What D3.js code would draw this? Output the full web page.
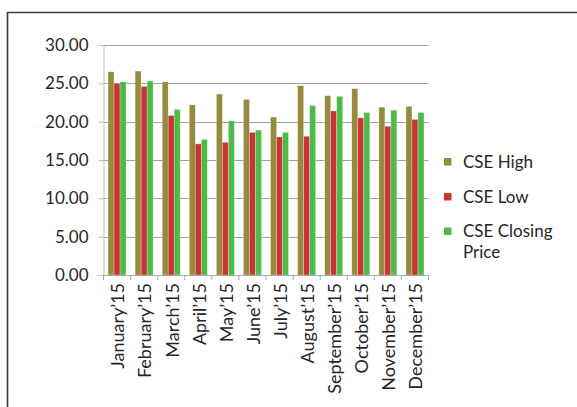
<!DOCTYPE html>
<html>
<head>
<meta charset="utf-8">
<script src="https://cdn.jsdelivr.net/npm/d3@7/dist/d3.min.js"></script>
<style>
  html, body { margin: 0; padding: 0; background: #fff; }
  svg { display: block; }
  text { font-family: Lato, "Open Sans", sans-serif; fill: #262626; }
</style>
</head>
<body>
<svg id="chart" width="577" height="407"></svg>
<script>
// Monthly CSE share price range, 2015
const months = ["January\u201915", "February\u201915", "March\u201915", "April\u201915", "May\u201915", "June\u201915",
  "July\u201915", "August\u201915", "September\u201915", "October\u201915", "November\u201915", "December\u201915"];
const cseHigh = [26.5, 26.6, 25.2, 22.2, 23.6, 22.9, 20.6, 24.7, 23.4, 24.3, 21.9, 22.0];
const cseLow = [25.0, 24.6, 20.8, 17.1, 17.3, 18.6, 18.0, 18.1, 21.4, 20.5, 19.4, 20.3];
const cseClose = [25.2, 25.3, 21.6, 17.7, 20.1, 18.9, 18.6, 22.1, 23.3, 21.2, 21.5, 21.2];
const seriesNames = ["CSE High", "CSE Low", "CSE Closing Price"];
const seriesColors = ["#958b3d", "#cb3432", "#4dbb48"];
const yTicks = [0, 5, 10, 15, 20, 25, 30];

const seriesValues = [cseHigh, cseLow, cseClose];
const svg = d3.select("#chart");

// outer frame (top and left edges)
svg.append("path")
  .attr("d", "M7.5,407 V12.5 H577")
  .attr("fill", "none")
  .attr("stroke", "#3c3c3c")
  .attr("stroke-width", 1.6);

const plot = { left: 103.5, right: 428.5, top: 45, bottom: 275 };

const x = d3.scaleBand().domain(months).range([plot.left, plot.right]).padding(0);
const xs = d3.scaleBand().domain(seriesNames)
  .range([(x.bandwidth() - 18) / 2, (x.bandwidth() + 18) / 2]).padding(0);
const y = d3.scaleLinear().domain([0, 30]).range([plot.bottom, plot.top]);

// horizontal gridlines
svg.append("g")
  .selectAll("line")
  .data(yTicks.filter(d => d > 0))
  .join("line")
  .attr("x1", plot.left).attr("x2", plot.right)
  .attr("y1", d => Math.round(y(d)) + 0.5).attr("y2", d => Math.round(y(d)) + 0.5)
  .attr("stroke", "#a0a0a0")
  .attr("stroke-width", 1);

// y axis
const yAxis = svg.append("g")
  .attr("transform", `translate(${plot.left},0)`)
  .call(d3.axisLeft(y).tickValues(yTicks).tickFormat(d3.format(".2f")).tickSize(5).tickPadding(10));
yAxis.select(".domain").attr("stroke", "#bdbdbd");
yAxis.selectAll(".tick line").attr("stroke", "#bdbdbd");
yAxis.selectAll(".tick text")
  .style("font-family", "Lato, 'Open Sans', sans-serif")
  .style("font-size", "17px")
  .attr("fill", "#262626");

// bars
const groups = svg.append("g")
  .selectAll("g")
  .data(months)
  .join("g")
  .attr("transform", d => `translate(${x(d)},0)`);

groups.selectAll("rect")
  .data((m, i) => seriesNames.map((s, k) => ({ s, k, v: seriesValues[k][i] })))
  .join("rect")
  .attr("x", d => xs(d.s))
  .attr("width", xs.bandwidth())
  .attr("y", d => y(d.v))
  .attr("height", d => y(0) - y(d.v))
  .attr("fill", d => seriesColors[d.k])
  .attr("stroke", "rgba(255,255,255,0.45)")
  .attr("stroke-width", 0.6);

// x axis with ticks at category boundaries
const bounds = months.map(m => x(m)).concat([plot.right]);
const xAxisG = svg.append("g");
xAxisG.append("line")
  .attr("x1", plot.left).attr("x2", plot.right)
  .attr("y1", plot.bottom + 0.5).attr("y2", plot.bottom + 0.5)
  .attr("stroke", "#a8a8a8");
xAxisG.selectAll("line.tick")
  .data(bounds)
  .join("line")
  .attr("class", "tick")
  .attr("x1", d => d).attr("x2", d => d)
  .attr("y1", plot.bottom).attr("y2", plot.bottom + 5)
  .attr("stroke", "#a8a8a8");

xAxisG.selectAll("text")
  .data(months)
  .join("text")
  .attr("transform", d => `translate(${x(d) + x.bandwidth() / 2 + 1},${plot.bottom + 8}) rotate(-90)`)
  .attr("text-anchor", "end")
  .attr("dy", "0.35em")
  .style("font-size", "18px")
  .text(d => d);

// legend
const legend = svg.append("g").attr("transform", "translate(444,0)");
const legendRows = [
  { lines: ["CSE High"], y: 158 },
  { lines: ["CSE Low"], y: 193 },
  { lines: ["CSE Closing", "Price"], y: 227.5 }
];
legendRows.forEach((row, k) => {
  legend.append("rect")
    .attr("x", 0).attr("y", row.y)
    .attr("width", 7.5).attr("height", 7.5)
    .attr("fill", seriesColors[k]);
  row.lines.forEach((ln, j) => {
    legend.append("text")
      .attr("x", 19).attr("y", row.y + 9.5 + j * 20.5)
      .style("font-size", "17px")
      .text(ln);
  });
});
</script>
</body>
</html>
